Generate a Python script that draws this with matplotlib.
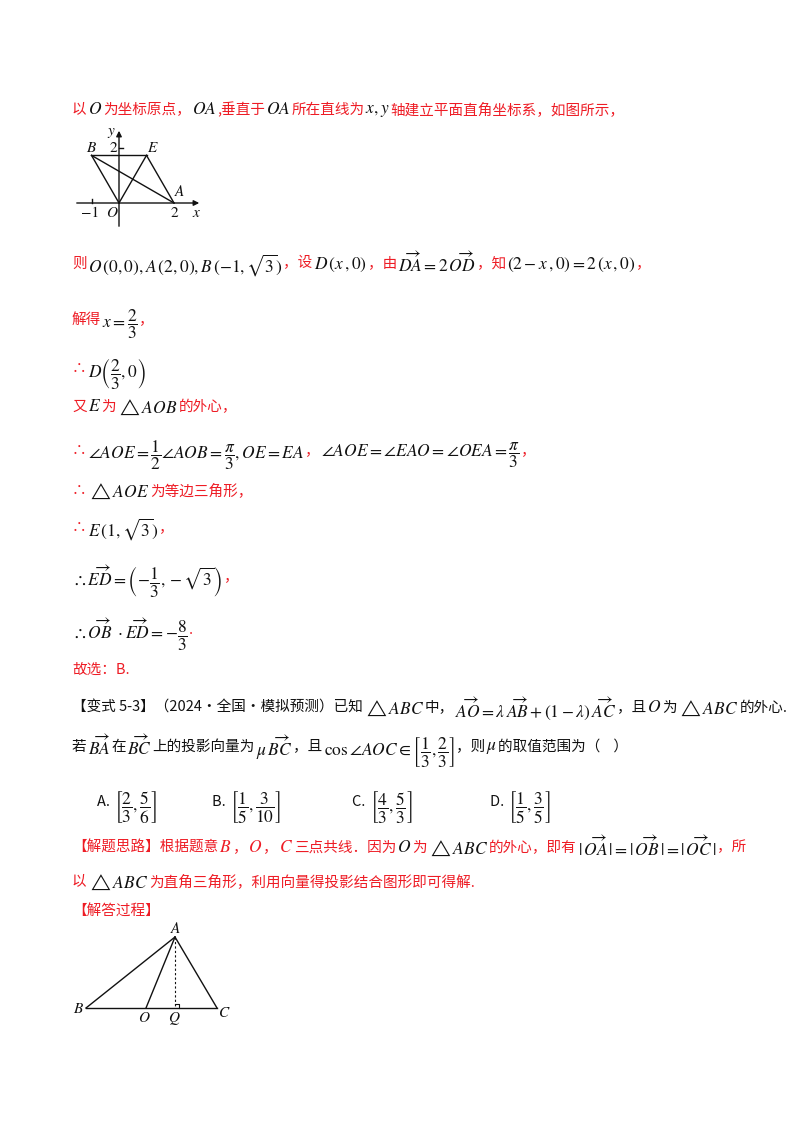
import matplotlib
matplotlib.use('Agg')
import matplotlib.pyplot as plt

plt.rcParams['mathtext.fontset'] = 'stix'

RED = '#ee1c25'
BLK = '#111111'
CJK = ['Noto Sans CJK SC', 'DejaVu Sans']
FS = 10.5
MFS = 12.5

## data: text lines (y position, list of (text, colour))
r = lambda s: (s, RED)
k = lambda s: (s, BLK)

lines = [
    (108, [r('以'), k('$O$'), r('为坐标原点，'), k('$OA$'), r(',垂直于'), k('$OA$'), r('所在直线为'),
           k('$x,y$'), r('轴建立平面直角坐标系，如图所示，')]),
    (262, [r('则'), k(r'$O\,(0,0),A\,(2,0),B\,(-1,\sqrt{3})$'), r('，设'), k(r'$D\,(x\,,0)$'), r('，由'),
           k(r'$\overrightarrow{DA}=2\,\overrightarrow{OD}$'), r('，知'), k(r'$(2-x\,,0)=2\,(x\,,0)$'), r('，')]),
    (318, [r('解得'), k(r'$x=\dfrac{2}{3}$'), r('，')]),
    (367, [r('∴'), k(r'$D\left(\dfrac{2}{3},0\right)$')]),
    (405, [r('又'), k('$E$'), r('为'), k(r'$\triangle ABC$'.replace('ABC', 'AOB')), r('的外心，')]),
    (449, [r('∴'), k(r'$\angle AOE=\dfrac{1}{2}\angle AOB=\dfrac{\pi}{3},OE=EA$'), r('，'),
           k(r'$\angle AOE=\angle EAO=\angle OEA=\dfrac{\pi}{3}$'), r('，')]),
    (489, [r('∴'), k(r'$\triangle AOE$'), r('为等边三角形，')]),
    (526, [r('∴'), k(r'$E\,(1,\sqrt{3})$'), r('，')]),
    (575, [k(r'$\therefore\overrightarrow{ED}=\left(-\dfrac{1}{3},-\sqrt{3}\right)$'), r('，')]),
    (628, [k(r'$\therefore\overrightarrow{OB}\ \cdot\overrightarrow{ED}=-\dfrac{8}{3}$'), r('.')]),
    (668, [r('故选：B.')]),
    (706, [k('【变式 5-3】（2024·全国·模拟预测）已知'), k(r'$\triangle ABC$'), k('中，'),
           k(r'$\overrightarrow{AO}=\lambda\,\overrightarrow{AB}+(1-\lambda)\,\overrightarrow{AC}$'),
           k('，且'), k('$O$'), k('为'), k(r'$\triangle ABC$'), k('的外心.')]),
    (745, [k('若'), k(r'$\overrightarrow{BA}$'), k('在'), k(r'$\overrightarrow{BC}$'), k('上的投影向量为'),
           k(r'$\mu\,\overrightarrow{BC}$'), k('，且'), k(r'$\cos\angle AOC\in\left[\dfrac{1}{3},\dfrac{2}{3}\right]$'),
           k('，则'), k(r'$\mu$'), k('的取值范围为（    ）')]),
    (846, [r('【解题思路】根据题意'), r('$B$'), r('，'), r('$O$'), r('，'), r('$C$'), r('三点共线．因为'), k('$O$'),
           r('为'), k(r'$\triangle ABC$'), r('的外心，即有'),
           k(r'$|\,\overrightarrow{OA}\,|=|\,\overrightarrow{OB}\,|=|\,\overrightarrow{OC}\,|$'), r('，所')]),
    (880, [r('以'), k(r'$\triangle ABC$'), r('为直角三角形，利用向量得投影结合图形即可得解.')]),
    (910, [r('【解答过程】')]),
]

options = ['A.', 'B.', 'C.', 'D.']
option_vals = [r'$\left[\dfrac{2}{3},\dfrac{5}{6}\right]$', r'$\left[\dfrac{1}{5},\dfrac{3}{10}\right]$',
               r'$\left[\dfrac{4}{3},\dfrac{5}{3}\right]$', r'$\left[\dfrac{1}{5},\dfrac{3}{5}\right]$']
option_x = [97, 212, 352, 490]

# figure 1 points (coordinate plane)
pts1 = {'O': (0, 0), 'A': (2, 0), 'B': (-1, 3 ** 0.5), 'E': (1, 3 ** 0.5)}
segs1 = [('B', 'E'), ('B', 'O'), ('O', 'E'), ('E', 'A'), ('B', 'A')]

# figure 2 points (triangle, page pixels)
pts2 = {'A': (175, 937), 'B': (86, 1008), 'C': (217, 1008), 'O': (146, 1008), 'Q': (175, 1008)}
segs2 = [('A', 'B'), ('A', 'C'), ('B', 'C'), ('A', 'O')]

## drawing

fig = plt.figure(figsize=(8, 11.32), dpi=100)
ax = fig.add_axes([0, 0, 1, 1])
ax.set_xlim(0, 800)
ax.set_ylim(1132, 0)
ax.axis('off')
fig.canvas.draw()
renderer = fig.canvas.get_renderer()


def put(x, y, parts):
    for s, c in parts:
        if s.startswith('$'):
            t = ax.text(x, y, s, color=c, fontsize=MFS, va='center_baseline', ha='left', family='STIXGeneral')
        else:
            t = ax.text(x, y, s, color=c, fontsize=FS, va='center_baseline', ha='left', family=CJK)
        bb = t.get_window_extent(renderer)
        x += bb.width + 1


for y, parts in lines:
    put(72, y, parts)

for lab, val, x in zip(options, option_vals, option_x):
    put(x, 800, [k(lab + ' '), k(val)])

# figure 1
ox, oy, u = 119, 203, 27.5
P = lambda p: (ox + u * p[0], oy - u * p[1])
ax.annotate('', xy=(202, oy), xytext=(74, oy), arrowprops=dict(arrowstyle='-|>', lw=1, color=BLK, mutation_scale=8))
ax.annotate('', xy=(ox, 128), xytext=(ox, 229), arrowprops=dict(arrowstyle='-|>', lw=1, color=BLK, mutation_scale=8))
for a, b in segs1:
    (x1, y1), (x2, y2) = P(pts1[a]), P(pts1[b])
    ax.plot([x1, x2], [y1, y2], color=BLK, lw=1)
ax.plot([ox - u, ox - u], [oy, oy - 4], color=BLK, lw=1)
ax.plot([ox, ox + 4], [oy - 2 * u, oy - 2 * u], color=BLK, lw=1)
sty = dict(fontsize=11, family='STIXGeneral', color=BLK, ha='center', va='center')
ax.text(91, 148, 'B', style='italic', **sty)
ax.text(152, 148, 'E', style='italic', **sty)
ax.text(179, 192, 'A', style='italic', **sty)
ax.text(112, 213, 'O', style='italic', **sty)
ax.text(90, 213, '−1', **sty)
ax.text(174, 213, '2', **sty)
ax.text(196, 213, 'x', style='italic', **sty)
ax.text(111, 131, 'y', style='italic', **sty)
ax.text(113, 148, '2', **sty)

# figure 2
for a, b in segs2:
    (x1, y1), (x2, y2) = pts2[a], pts2[b]
    ax.plot([x1, x2], [y1, y2], color=BLK, lw=1)
ax.plot([pts2['A'][0], pts2['Q'][0]], [pts2['A'][1], pts2['Q'][1]], color=BLK, lw=0.8, ls=(0, (2, 2)))
qx, qy = pts2['Q']
ax.plot([qx, qx + 4, qx + 4], [qy - 4, qy - 4, qy], color=BLK, lw=0.8)
ax.text(175, 929, 'A', style='italic', **sty)
ax.text(78, 1009, 'B', style='italic', **sty)
ax.text(224, 1013, 'C', style='italic', **sty)
ax.text(144, 1018, 'O', style='italic', **sty)
ax.text(174, 1018, 'Q', style='italic', **sty)

fig.savefig('out.png', dpi=100)
